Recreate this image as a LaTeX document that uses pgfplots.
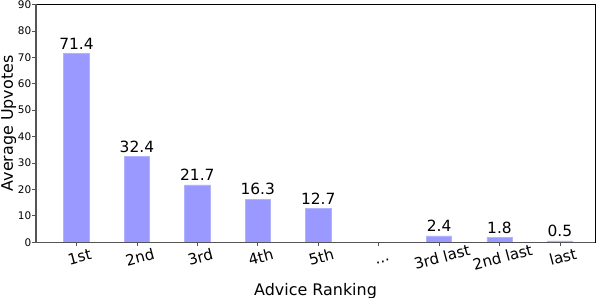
\documentclass[border=0pt]{standalone}
\usepackage{fontspec}
\setmainfont{DejaVu Sans}
\usepackage{pgfplots}
\pgfplotsset{compat=1.18}
\definecolor{barc}{HTML}{9999FF}
\definecolor{spine}{HTML}{555555}
\begin{document}
\begin{tikzpicture}
\useasboundingbox (-36bp,-55.7bp) rectangle (560bp,242.3bp);
\begin{axis}[
  name=ax,
  at={(0,0)}, anchor=south west,
  scale only axis,
  width=559bp, height=237.8bp,
  xmin=-0.67, xmax=8.58,
  ymin=0, ymax=90,
  ytick={0,10,20,30,40,50,60,70,80,90},
  yticklabel={\pgfmathprintnumber[assume math mode=true]{\tick}},
  xtick={0,1,2,3,4,5,6,7,8},
  xticklabels={1st,2nd,3rd,4th,5th,{.{}.{}.},3rd last,2nd last,last},
  tick align=outside,
  tick pos=left,
  major tick length=3.5bp,
  tick style={spine, line width=0.8bp},
  axis line style={black, line width=0.9bp},
  /pgf/number format/assume math mode=true,
  yticklabel style={font=\fontsize{10.5}{12}\selectfont, inner sep=1bp},
  xticklabel style={font=\fontsize{15.2}{18}\selectfont, rotate=15, anchor=north, inner sep=1bp,
    text height=11.5bp, text depth=3bp, yshift=-4.5bp},
  xlabel={Advice Ranking},
  ylabel={Average Upvotes},
  label style={font=\fontsize{16}{19}\selectfont},
  xlabel style={at={(axis description cs:0.5,0)}, anchor=base, yshift=-53bp},
  ylabel style={at={(axis description cs:-0.0626,0.5)}, anchor=north, inner sep=0pt},
  ybar, bar width=25.4bp,
  nodes near coords={\fontsize{15.5}{18}\selectfont\pgfmathprintnumber[fixed,fixed zerofill,precision=1,assume math mode=true]{\pgfplotspointmeta}},
  nodes near coords style={black, inner sep=0pt, yshift=4bp},
  clip=false,
]
\addplot[fill=barc, draw=barc!75!white, line width=0.6bp] coordinates {
  (0,71.4) (1,32.4) (2,21.7) (3,16.3) (4,12.7) (6,2.4) (7,1.8) (8,0.5)
};
\end{axis}
\draw[spine, line width=1.4bp] (ax.north west) -- (ax.south west) -- (ax.south east);
\end{tikzpicture}
\end{document}
